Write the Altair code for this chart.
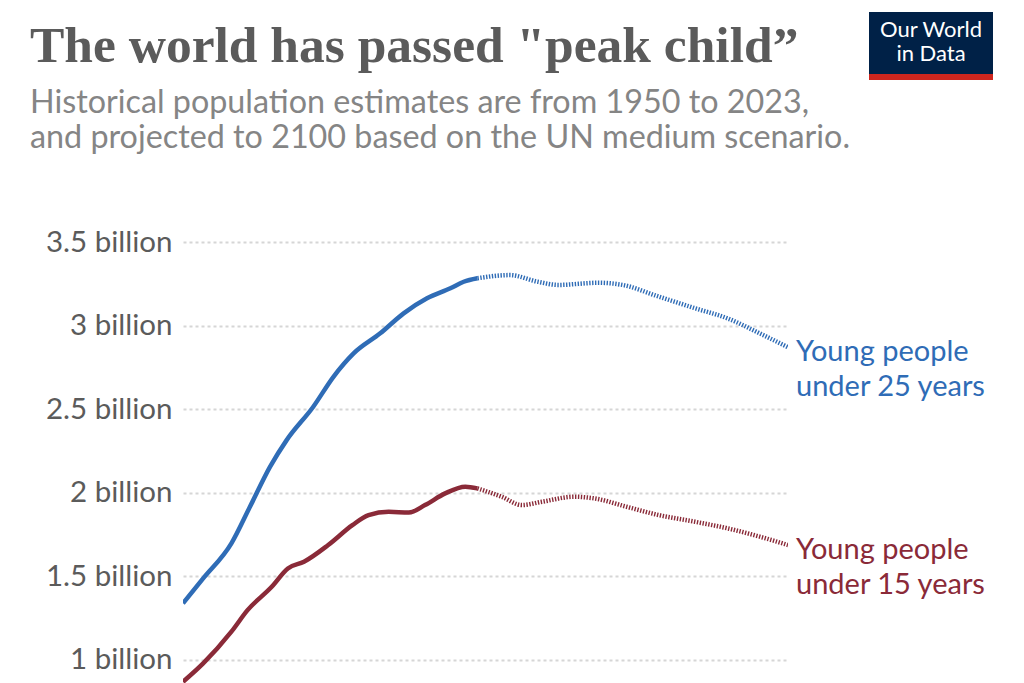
import altair as alt
import pandas as pd

# ---- data ----
u25_hist_years = [1950, 1955, 1962, 1966.6, 1971.6, 1975.7, 1982.3, 1987.3, 1992.3, 1998.9, 2004.7, 2010.5, 2016.3, 2019.6, 2023]
u25_hist_vals = [1.337, 1.486, 1.696, 1.915, 2.155, 2.314, 2.514, 2.693, 2.833, 2.953, 3.073, 3.163, 3.223, 3.262, 3.283]
u25_proj_years = [2023, 2031, 2038, 2043, 2053, 2059, 2068, 2077, 2085, 2093, 2100]
u25_proj_vals = [3.283, 3.302, 3.262, 3.243, 3.256, 3.243, 3.173, 3.103, 3.043, 2.953, 2.870]

u15_hist_years = [1950, 1955, 1962, 1966, 1972, 1976, 1980, 1986, 1992, 1996, 2001, 2006, 2010, 2015, 2020, 2023]
u15_hist_vals = [0.867, 0.977, 1.167, 1.296, 1.436, 1.546, 1.586, 1.686, 1.805, 1.865, 1.885, 1.880, 1.925, 1.995, 2.035, 2.025]
u15_proj_years = [2023, 2029, 2034, 2039, 2047, 2052, 2060, 2068, 2077, 2085, 2093, 2100]
u15_proj_vals = [2.025, 1.975, 1.925, 1.945, 1.975, 1.965, 1.915, 1.865, 1.825, 1.786, 1.736, 1.686]

series_names = ["Young people\nunder 25 years", "Young people\nunder 15 years"]
series_colors = ["#2f6cb6", "#8a2a38"]
y_ticks = [1, 1.5, 2, 2.5, 3, 3.5]

title_text = 'The world has passed "peak child\u201d'
subtitle_lines = ["Historical population estimates are from 1950 to 2023,",
                  "and projected to 2100 based on the UN medium scenario."]
logo_lines = ["Our World", "in Data"]

# ---- build tables ----
rows = []
for name, hy, hv, py, pv in [
    (series_names[0], u25_hist_years, u25_hist_vals, u25_proj_years, u25_proj_vals),
    (series_names[1], u15_hist_years, u15_hist_vals, u15_proj_years, u15_proj_vals),
]:
    for y, v in zip(hy, hv):
        rows.append({"year": y, "value": v, "series": name, "part": "hist"})
    for y, v in zip(py, pv):
        rows.append({"year": y, "value": v, "series": name, "part": "proj"})
df = pd.DataFrame(rows)

ends = pd.DataFrame({
    "year": [u25_proj_years[-1], u15_proj_years[-1]],
    "value": [u25_proj_vals[-1], u15_proj_vals[-1]],
    "series": series_names,
})

W, H = 605, 441
x_scale = alt.Scale(domain=[1950, 2100], nice=False, zero=False)
y_scale = alt.Scale(domain=[0.86, 3.5], nice=False, zero=False)
color_scale = alt.Scale(domain=series_names, range=series_colors)

base = alt.Chart(df)

y_axis = alt.Axis(
    values=y_ticks,
    labelExpr="datum.value + ' billion'",
    domain=False, ticks=False,
    grid=True, gridDash=[3, 3], gridColor="#d6d6d6", gridWidth=2,
    labelFont="Lato", labelFontSize=29.5, labelColor="#5b5b5b",
    labelPadding=11, title=None,
)

hist = base.transform_filter("datum.part == 'hist'").mark_line(
    strokeWidth=4.5, interpolate="monotone", clip=True, strokeCap="butt"
).encode(
    x=alt.X("year:Q", scale=x_scale, axis=None),
    y=alt.Y("value:Q", scale=y_scale, axis=y_axis),
    color=alt.Color("series:N", scale=color_scale, legend=None),
    detail="series:N",
)

proj = base.transform_filter("datum.part == 'proj'").mark_line(
    strokeWidth=4.5, interpolate="monotone", clip=True, strokeDash=[1.4, 1.5], strokeCap="butt"
).encode(
    x=alt.X("year:Q", scale=x_scale, axis=None),
    y=alt.Y("value:Q", scale=y_scale, axis=y_axis),
    color=alt.Color("series:N", scale=color_scale, legend=None),
    detail="series:N",
)

end_labels = alt.Chart(ends).mark_text(
    align="left", baseline="middle", dx=8, dy=5, font="Lato", fontSize=29,
    lineBreak="\n", lineHeight=35,
).encode(
    x=alt.X("year:Q", scale=x_scale, axis=None),
    y=alt.Y("value:Q", scale=y_scale, axis=y_axis),
    text="series:N",
    color=alt.Color("series:N", scale=color_scale, legend=None),
)


def header_text(txt, x, y, **kw):
    return alt.Chart(pd.DataFrame({"t": [txt]})).mark_text(
        baseline="alphabetic", **kw
    ).encode(x=alt.value(x), y=alt.value(y), text="t:N")


# ---- header: title, subtitle, logo (positioned relative to plot origin) ----
title = header_text(title_text, -153, -180, align="left", font="Liberation Serif",
                    fontWeight="bold", fontSize=51.5, color="#5b5b5b")
sub1 = header_text(subtitle_lines[0], -153, -129, align="left", font="Lato",
                   fontSize=32.3, color="#858585")
sub2 = header_text(subtitle_lines[1], -153, -94, align="left", font="Lato",
                   fontSize=32.3, color="#858585")

hdr = pd.DataFrame({"t": [""]})
logo_bg = alt.Chart(hdr).mark_rect(color="#002147").encode(
    x=alt.value(686), x2=alt.value(810), y=alt.value(-230), y2=alt.value(-168)
)
logo_red = alt.Chart(hdr).mark_rect(color="#ce261e").encode(
    x=alt.value(686), x2=alt.value(810), y=alt.value(-168), y2=alt.value(-162)
)
logo1 = header_text(logo_lines[0], 748, -205, align="center", font="Lato",
                    fontSize=22, color="white")
logo2 = header_text(logo_lines[1], 748, -181, align="center", font="Lato",
                    fontSize=22, color="white")

chart = alt.layer(
    hist, proj, end_labels, title, sub1, sub2, logo_bg, logo_red, logo1, logo2
).properties(
    width=W, height=H,
    background="white",
    autosize=alt.AutoSizeParams(type="none"),
    padding={"left": 183, "top": 242, "right": 236, "bottom": 0},
).configure_view(stroke=None)

chart.save("out.html", embed_options={"renderer": "svg", "actions": False})
